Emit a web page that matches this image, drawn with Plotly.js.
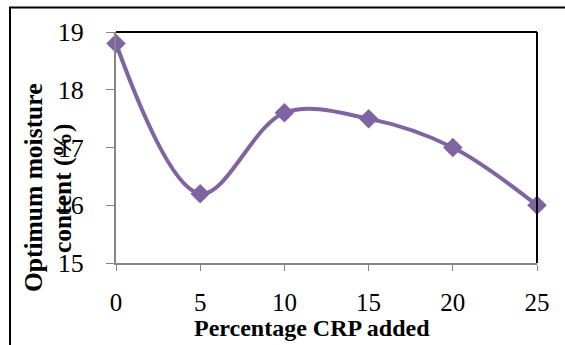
<!DOCTYPE html>
<html><head><meta charset="utf-8">
<script src="https://cdn.plot.ly/plotly-3.0.1.min.js"></script>
<style>html,body{margin:0;padding:0;background:#fff;}#chart{width:565px;height:345px;}</style>
</head><body><div id="chart"></div>
<script>
const crpAdded = [0, 5, 10, 15, 20, 25];
const moisture = [18.8, 16.2, 17.6, 17.5, 17.0, 16.0];
const xTicks = [0, 5, 10, 15, 20, 25];
const yTicks = [15, 16, 17, 18, 19];
const xTitle = 'Percentage CRP added';
const yTitleLines = ['Optimum moisture', 'content (%)'];

const serif = 'Liberation Serif, Times New Roman, serif';
const trace = {
  x: crpAdded, y: moisture, type: 'scatter', mode: 'lines+markers',
  line: {shape: 'spline', smoothing: 1, color: '#8064A2', width: 4},
  marker: {symbol: 'diamond', size: 15, color: '#8064A2'},
  cliponaxis: false, hoverinfo: 'none'
};
const L = 116, T = 32, W = 421, H = 231;
const px = v => (v - L) / W;
const py = v => (T + H - v) / H;
const layout = {
  width: 565, height: 345,
  margin: {l: 116, r: 28, t: 32, b: 82},
  paper_bgcolor: '#fff', plot_bgcolor: '#fff',
  showlegend: false,
  xaxis: {range: [0, 25], tickvals: xTicks, ticks: 'outside', ticklen: 6, tickcolor: '#868686',
    showgrid: false, zeroline: false, showline: true, linecolor: '#868686', linewidth: 2,
    ticklabelstandoff: 10,
    tickfont: {family: serif, size: 25, color: '#000'}, fixedrange: true},
  yaxis: {range: [15, 19], tickvals: yTicks, ticks: 'outside', ticklen: 8, tickcolor: '#868686',
    showgrid: false, zeroline: false, showline: true, linecolor: '#868686', linewidth: 2,
    ticklabelstandoff: 17,
    tickfont: {family: serif, size: 26, color: '#000'}, fixedrange: true},
  shapes: [
    {type: 'line', xref: 'paper', yref: 'paper', x0: 0, x1: 1, y0: 1, y1: 1, line: {color: '#000', width: 2}},
    {type: 'line', xref: 'paper', yref: 'paper', x0: 1, x1: 1, y0: 0, y1: 1, line: {color: '#000', width: 2}},
    {type: 'rect', xref: 'paper', yref: 'paper', x0: px(10), x1: px(575), y0: py(355), y1: py(7.5), line: {color: '#000', width: 2}, layer: 'below'}
  ],
  annotations: [
    {text: '<b>' + xTitle + '</b>', xref: 'paper', yref: 'paper', x: px(312), y: py(328),
      xanchor: 'center', yanchor: 'middle', showarrow: false, font: {family: serif, size: 24, color: '#000'}},
    {text: '<b>' + yTitleLines[0] + '</b>', xref: 'paper', yref: 'paper', x: px(33), y: py(188),
      xanchor: 'center', yanchor: 'middle', textangle: -90, showarrow: false,
      font: {family: serif, size: 25.5, color: '#000'}},
    {text: '<b>' + yTitleLines[1] + '</b>', xref: 'paper', yref: 'paper', x: px(62), y: py(188),
      xanchor: 'center', yanchor: 'middle', textangle: -90, showarrow: false,
      font: {family: serif, size: 25.5, color: '#000'}}
  ]
};
Plotly.newPlot('chart', [trace], layout, {staticPlot: true});
</script></body></html>
